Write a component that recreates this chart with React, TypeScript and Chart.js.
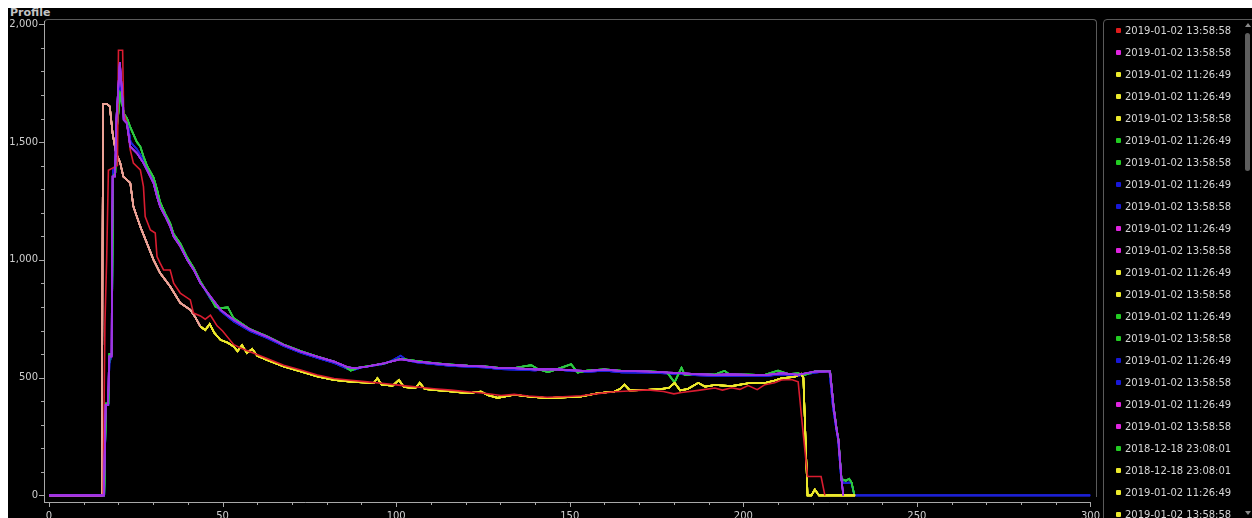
import React, { useEffect, useRef } from 'react';
import { Chart, registerables } from 'chart.js';

Chart.register(...registerables);

// ---------- axis settings ----------
const xMin = -1.45;
const xMax = 300;
const yMin = -28;
const yMax = 2014;
const xMinorStep = 10;
const xMajorStep = 50;
const yMinorStep = 100;
const yMajorStep = 500;

// ---------- legend entries ----------
const legendLabels = [
  '2019-01-02 13:58:58', '2019-01-02 13:58:58', '2019-01-02 11:26:49', '2019-01-02 11:26:49',
  '2019-01-02 13:58:58', '2019-01-02 11:26:49', '2019-01-02 13:58:58', '2019-01-02 11:26:49',
  '2019-01-02 13:58:58', '2019-01-02 11:26:49', '2019-01-02 13:58:58', '2019-01-02 11:26:49',
  '2019-01-02 13:58:58', '2019-01-02 11:26:49', '2019-01-02 13:58:58', '2019-01-02 11:26:49',
  '2019-01-02 13:58:58', '2019-01-02 11:26:49', '2019-01-02 13:58:58', '2018-12-18 23:08:01',
  '2018-12-18 23:08:01', '2019-01-02 11:26:49', '2019-01-02 13:58:58',
];
const legendKinds = [
  'red', 'magenta', 'yellow', 'yellow', 'yellow', 'green', 'green', 'blue', 'blue', 'magenta',
  'magenta', 'yellow', 'yellow', 'green', 'green', 'blue', 'blue', 'magenta', 'magenta', 'green',
  'yellow', 'yellow', 'yellow',
];

// ---------- profile curves [position, value] ----------
const redCurve: [number, number][] = [
  [0, 0], [15.6, 0], [16.1, 730], [16.6, 1000], [17.1, 1380], [19.7, 1400], [20, 1890], [21.2, 1890],
  [21.5, 1624], [22.4, 1581], [23.4, 1467], [24.3, 1411], [26.3, 1382], [27.2, 1311], [27.7, 1184],
  [29.2, 1127], [30.6, 1114], [31.1, 1014], [32, 986], [33, 957], [34.9, 957], [35.9, 901], [37.8, 859],
  [40.7, 830], [41.6, 774], [43.6, 762], [45, 748], [46.5, 765], [48.4, 720], [50, 698], [53.2, 640],
  [56, 620], [59, 603], [62.8, 581], [67.6, 553], [72.5, 532], [77.3, 511], [82.1, 496], [86.9, 489],
  [91.7, 482], [96.5, 475], [101.3, 467], [106.1, 460], [110.9, 453], [115.8, 447], [120.6, 440],
  [125.4, 434], [130.2, 424], [134, 429], [138, 422], [143.5, 417], [148, 419], [153.3, 423],
  [158, 432], [162.9, 440], [167, 443], [172.5, 448], [177, 441], [180, 431], [182.2, 437], [187, 446],
  [191.8, 456], [194, 447], [196.6, 457], [199, 450], [201.4, 466], [204, 449], [206.2, 470],
  [209, 478], [211, 490], [213.9, 492], [215.8, 482], [217, 300], [218.5, 80], [222.4, 80],
  [223.5, 0],
];

const yellowCurve: [number, number][] = [
  [0, 0], [15.2, 0], [15.4, 1010], [15.6, 1662], [16.6, 1662], [17.5, 1651], [18.3, 1538],
  [19.3, 1454], [20.5, 1412], [21.4, 1354], [23.4, 1327], [24.3, 1226], [26.3, 1141], [28.2, 1071],
  [30.1, 1000], [32, 944], [34.9, 887], [37.8, 817], [40.7, 788], [42.2, 755], [43.6, 717], [45, 702],
  [46.3, 728], [47.6, 690], [49.4, 660], [51.5, 648], [53.2, 632], [54.3, 612], [55.6, 638], [57, 604],
  [58.5, 622], [60, 592], [62.8, 575], [67.6, 547], [72.5, 526], [77.3, 505], [82.1, 490], [86.9, 483],
  [91.7, 478], [93.5, 476], [94.6, 498], [95.8, 470], [99, 466], [100.8, 490], [102.2, 460],
  [105.5, 455], [106.8, 478], [108.2, 452], [110.9, 448], [115.8, 441], [120.6, 434], [124.4, 441],
  [126.5, 425], [129.2, 414], [134, 427], [138, 420], [143.5, 413], [148, 416], [153.3, 420],
  [158, 434], [162.9, 441], [164.5, 452], [165.8, 470], [167.3, 446], [172.5, 448], [176, 452],
  [178.5, 456], [180.2, 478], [181.8, 446], [184, 452], [187, 478], [189, 462], [191.8, 469],
  [196.6, 464], [201.4, 476], [206.2, 477], [209, 488], [211, 497], [214.8, 504], [216.6, 516],
  [217.3, 500], [218.5, 0], [219.6, 0], [220.6, 25], [221.8, 0], [232.2, 0],
];

const magentaCurve: [number, number][] = [
  [0, 0], [15.8, 0], [16.3, 384], [17, 384], [17.3, 590], [18, 590], [18.3, 1354], [19, 1354],
  [19.4, 1600], [20.4, 1840], [21, 1722], [21.5, 1594], [22.4, 1580], [23.4, 1481], [25.3, 1453],
  [27.2, 1411], [28.2, 1382], [30.1, 1326], [31.1, 1269], [32, 1226], [33.5, 1184], [34.9, 1141],
  [35.9, 1099], [37.8, 1057], [39.8, 1000], [41.7, 957], [43.6, 901], [46.5, 844], [49.4, 788],
  [53.2, 745], [58, 703], [62.8, 674], [67.6, 639], [72.5, 611], [77.3, 589], [82.1, 568],
  [85.9, 545], [88, 540], [91.7, 547], [96.5, 561], [101.3, 578], [106.1, 568], [110.9, 561],
  [115.8, 554], [120.6, 550], [125.4, 547], [130.2, 540], [134, 540], [140, 535], [145, 536],
  [150, 532], [155, 528], [160, 534], [165, 528], [172.5, 526], [178, 522], [182.2, 519], [186, 515],
  [191.8, 512], [196, 514], [201.4, 512], [206, 510], [211, 519], [215.8, 512], [220.6, 526],
  [225, 526], [226, 377], [226.9, 278], [227.4, 236], [228.3, 66], [228.8, 0],
];

const blueCurve: [number, number][] = [
  [0, 0], [15.9, 0], [16.4, 384], [17.1, 384], [17.4, 560], [18.1, 600], [18.4, 1380], [19.1, 1400],
  [19.5, 1560], [20.5, 1760], [21.1, 1700], [21.6, 1610], [22.5, 1590], [23.5, 1500], [25.3, 1470],
  [27.2, 1425], [28.2, 1395], [30.1, 1340], [31.1, 1280], [32, 1235], [33.5, 1190], [34.9, 1150],
  [35.9, 1105], [37.8, 1065], [39.8, 1005], [41.7, 962], [43.6, 905], [46.5, 835], [49.4, 783],
  [53.2, 738], [58, 697], [62.8, 668], [67.6, 634], [72.5, 606], [77.3, 583], [82.1, 562],
  [85.9, 538], [88, 534], [90, 543], [96.5, 558], [99, 574], [101.3, 593], [103, 574], [106.1, 564],
  [110.9, 557], [115.8, 550], [120.6, 546], [125.4, 543], [130.2, 536], [135, 534], [140, 530],
  [145, 537], [150, 528], [155, 524], [160, 529], [165, 522], [172.5, 521], [178, 518], [182.2, 515],
  [186, 510], [191.8, 507], [196, 506], [201.4, 508], [206, 506], [211, 514], [215.8, 508],
  [220.6, 521], [224.8, 528], [225.8, 377], [226.8, 278], [227.3, 236], [228.2, 66], [229, 52],
  [231.1, 55], [232, 0], [300, 0],
];

const greenCurve: [number, number][] = [
  [0, 0], [15.9, 0], [16.4, 390], [17.1, 390], [17.4, 600], [18.1, 600], [18.4, 1350], [19.1, 1370],
  [19.5, 1550], [20.5, 1700], [21.1, 1660], [21.6, 1620], [22.5, 1600], [23.5, 1560], [25.3, 1500],
  [26.3, 1481], [27.2, 1440], [28.2, 1400], [30.1, 1350], [31.1, 1300], [32, 1245], [33.5, 1195],
  [34.9, 1155], [35.9, 1110], [37.8, 1070], [39.8, 1010], [41.7, 965], [43.6, 908], [46.5, 840],
  [48, 800], [49.4, 795], [51.5, 798], [53.2, 752], [58, 705], [62.8, 676], [67.6, 641], [72.5, 613],
  [77.3, 590], [82.1, 568], [85, 550], [86.9, 530], [89, 542], [91.7, 548], [96.5, 560],
  [101.3, 580], [106.1, 570], [110.9, 562], [115.8, 556], [120.6, 551], [125.4, 548], [130.2, 541],
  [134, 541], [138.9, 553], [141, 535], [143.7, 523], [146, 534], [150.4, 557], [152.3, 521],
  [155, 530], [160, 535], [165, 529], [172.5, 527], [178, 523], [180.2, 480], [181, 505],
  [182.2, 542], [183.1, 512], [186, 516], [191.8, 513], [194.6, 529], [196, 514], [201.4, 513],
  [206, 511], [210, 530], [213, 515], [215.8, 518], [217.5, 510], [220.6, 527], [225, 528],
  [226, 380], [226.9, 280], [227.4, 240], [228.3, 70], [229.5, 62], [230.5, 70], [231.2, 55],
  [232, 0],
];

const curveByKind: Record<string, [number, number][]> = {
  red: redCurve,
  yellow: yellowCurve,
  magenta: magentaCurve,
  blue: blueCurve,
  green: greenCurve,
};

// ---------- colours ----------
const lineColor: Record<string, string> = {
  red: 'rgb(218,28,48)',
  yellow: 'rgb(236,232,44)',
  magenta: 'rgb(158,50,230)',
  blue: 'rgb(28,32,214)',
  green: 'rgb(44,200,64)',
};
const markerColor: Record<string, string> = {
  red: '#e01c1c',
  yellow: '#ecea2c',
  magenta: '#e024e0',
  blue: '#1818d8',
  green: '#22cc22',
};
const drawOrder: Record<string, number> = { magenta: 0, red: 1, yellow: 2, green: 3, blue: 4 };
const salmon = 'rgb(236,162,150)';
const axisColor = '#a8a8a8';
const frameColor = '#5a5a5a';
const textColor = '#cfcfcf';

const tickMarks = {
  id: 'tickMarks',
  afterDraw(chart: any) {
    const { ctx, chartArea, scales } = chart;
    ctx.save();
    ctx.strokeStyle = axisColor;
    ctx.lineWidth = 1;
    ctx.beginPath();
    for (const t of scales.x.ticks) {
      const p = Math.round(scales.x.getPixelForValue(t.value)) + 0.5;
      const len = t.value % xMajorStep === 0 ? 5 : 3;
      ctx.moveTo(p, chartArea.bottom);
      ctx.lineTo(p, chartArea.bottom + len);
    }
    for (const t of scales.y.ticks) {
      const p = Math.round(scales.y.getPixelForValue(t.value)) + 0.5;
      const len = t.value % yMajorStep === 0 ? 5 : 3;
      ctx.moveTo(chartArea.left - len, p);
      ctx.lineTo(chartArea.left, p);
    }
    ctx.stroke();
    ctx.restore();
  },
};

export default function App() {
  const canvasRef = useRef<HTMLCanvasElement>(null);

  useEffect(() => {
    const datasets = legendLabels.map((label, i) => {
      const kind = legendKinds[i];
      const ds: any = {
        label,
        data: curveByKind[kind].map(([x, y]) => ({ x, y })),
        borderColor: lineColor[kind],
        backgroundColor: lineColor[kind],
        borderWidth: 1.6,
        pointRadius: 0,
        tension: 0,
        fill: false,
        order: drawOrder[kind],
      };
      if (kind === 'yellow') {
        ds.segment = {
          borderColor: (c: any) => (c.p1.parsed.x <= 44 ? salmon : undefined),
        };
      }
      return ds;
    });

    const chart = new Chart(canvasRef.current!, {
      type: 'line',
      data: { datasets },
      options: {
        animation: false,
        responsive: false,
        events: [],
        layout: { padding: { left: 0, top: 13, right: 12, bottom: 0 } },
        plugins: { legend: { display: false }, tooltip: { enabled: false } },
        scales: {
          x: {
            type: 'linear',
            min: xMin,
            max: xMax,
            afterFit: (s: any) => { s.height = 16; },
            border: { display: true, color: axisColor, width: 1 },
            grid: { display: true, drawOnChartArea: false, drawTicks: false },
            ticks: {
              stepSize: xMinorStep,
              includeBounds: false,
              autoSkip: false,
              maxRotation: 0,
              minRotation: 0,
              padding: 8,
              color: textColor,
              font: { family: '"DejaVu Sans"', size: 10 },
              callback: (v: any) => (Number(v) % xMajorStep === 0 ? String(v) : ''),
            },
          },
          y: {
            type: 'linear',
            min: yMin,
            max: yMax,
            afterFit: (s: any) => { s.width = 36; },
            border: { display: true, color: axisColor, width: 1 },
            grid: { display: true, drawOnChartArea: false, drawTicks: false },
            ticks: {
              stepSize: yMinorStep,
              includeBounds: false,
              autoSkip: false,
              padding: 6,
              color: textColor,
              font: { family: '"DejaVu Sans"', size: 10 },
              callback: (v: any) =>
                Number(v) % yMajorStep === 0 ? Number(v).toLocaleString('en-US') : '',
            },
          },
        },
      },
      plugins: [tickMarks],
    });
    return () => chart.destroy();
  }, []);

  return (
    <div
      style={{
        position: 'fixed',
        left: 8,
        top: 8,
        right: 0,
        bottom: 0,
        background: '#000',
        overflow: 'hidden',
        fontFamily: '"DejaVu Sans", sans-serif',
      }}
    >
      <div
        style={{
          position: 'absolute',
          left: 2,
          top: -1,
          color: '#c4c4c4',
          fontWeight: 'bold',
          fontSize: 11,
          lineHeight: '12px',
        }}
      >
        Profile
      </div>
      {/* plot panel frame */}
      <div
        style={{
          position: 'absolute',
          left: 36,
          top: 11,
          width: 1053,
          height: 478,
          boxSizing: 'border-box',
          borderTop: `1px solid ${frameColor}`,
          borderRight: `1px solid ${frameColor}`,
          borderLeft: `1px solid ${frameColor}`,
          borderTopLeftRadius: 4,
          borderTopRightRadius: 4,
        }}
      />
      <canvas
        ref={canvasRef}
        width={1100}
        height={510}
        style={{ position: 'absolute', left: 0, top: 0, width: 1100, height: 510 }}
      />
      {/* legend panel */}
      <div
        style={{
          position: 'absolute',
          left: 1095,
          top: 11,
          width: 170,
          height: 520,
          boxSizing: 'border-box',
          border: `1px solid ${frameColor}`,
          borderTopLeftRadius: 4,
          overflow: 'hidden',
        }}
      >
        {legendLabels.map((label, i) => (
          <div
            key={i}
            style={{
              position: 'absolute',
              left: 0,
              top: 15.9 + 22 * i - 12,
              height: 14,
              width: 150,
              whiteSpace: 'nowrap',
            }}
          >
            <div
              style={{
                position: 'absolute',
                left: 12,
                top: 4.5,
                width: 5,
                height: 5,
                borderRadius: 1,
                background: markerColor[legendKinds[i]],
              }}
            />
            <div
              style={{
                position: 'absolute',
                left: 21,
                top: 0,
                fontSize: 10,
                lineHeight: '14px',
                color: '#d6d6d6',
              }}
            >
              {label}
            </div>
          </div>
        ))}
        {/* scrollbar */}
        <div
          style={{
            position: 'absolute',
            left: 141,
            top: 3,
            width: 0,
            height: 0,
            borderLeft: '3px solid transparent',
            borderRight: '3px solid transparent',
            borderBottom: '4px solid #8a8a8a',
          }}
        />
        <div
          style={{
            position: 'absolute',
            left: 141,
            top: 13,
            width: 5,
            height: 138,
            borderRadius: 3,
            background: '#5e5e5e',
          }}
        />
        <div
          style={{
            position: 'absolute',
            left: 141,
            top: 491,
            width: 0,
            height: 0,
            borderLeft: '3px solid transparent',
            borderRight: '3px solid transparent',
            borderTop: '4px solid #8a8a8a',
          }}
        />
      </div>
    </div>
  );
}
